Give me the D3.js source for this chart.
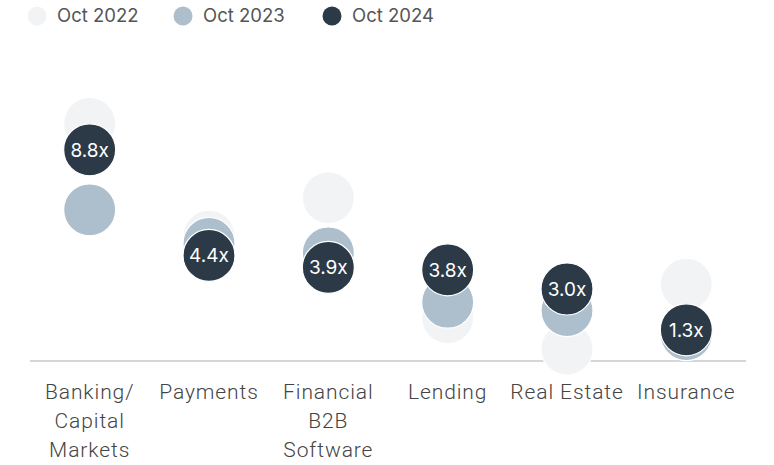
<!DOCTYPE html>
<html>
<head>
<meta charset="utf-8">
<script src="https://cdn.jsdelivr.net/npm/d3@7"></script>
<style>
  html, body { margin: 0; padding: 0; background: #ffffff; }
  svg { display: block; }
</style>
</head>
<body>
<svg id="chart" width="774" height="465"></svg>
<script>
// Revenue multiples by fintech segment
const categories = ["Banking/ Capital Markets", "Payments", "Financial B2B Software", "Lending", "Real Estate", "Insurance"];
const seriesNames = ["Oct 2022", "Oct 2023", "Oct 2024"];
const oct2022 = [9.9, 5.2, 6.8, 1.8, 0.5, 3.2];
const oct2023 = [6.3, 4.9, 4.5, 2.45, 2.1, 1.1];
const oct2024 = [8.8, 4.4, 3.9, 3.8, 3.0, 1.3];
const seriesValues = [oct2022, oct2023, oct2024];
const colors = ["#f2f3f5", "#adbfcc", "#2c3a47"];

const svg = d3.select("#chart");
const left = 30, right = 746, baseline = 361;

const x = d3.scaleBand().domain(categories).range([left, right]).padding(0);
const y = d3.scaleLinear().domain([0, 10]).range([baseline, baseline - 240]);
const r = 26;

// Legend
const legendX = [37, 183, 332];
const legend = svg.append("g").attr("class", "legend");
seriesNames.forEach((name, i) => {
  const g = legend.append("g").attr("transform", `translate(${legendX[i]},16)`);
  g.append("circle").attr("r", 9.5).attr("fill", colors[i]);
  g.append("text")
    .attr("x", 20).attr("y", 0).attr("dy", "0.35em")
    .attr("font-family", "Inter, 'Noto Sans', sans-serif")
    .attr("font-size", 18.5)
    .attr("fill", "#555555")
    .text(name);
});

// Baseline axis
const axis = d3.axisBottom(x).tickSize(0).tickPadding(0);
const axisG = svg.append("g")
  .attr("transform", `translate(0,${baseline})`)
  .call(axis);
axisG.select(".domain").attr("stroke", "#d6d6d6").attr("stroke-width", 2)
  .attr("d", `M${left},0H${right}`);
axisG.selectAll(".tick text")
  .attr("font-family", "Roboto, 'Liberation Sans', sans-serif")
  .attr("font-weight", 300)
  .attr("font-size", 21)
  .attr("letter-spacing", "0.9px")
  .attr("fill", "#444444")
  .attr("y", 38)
  .attr("dy", 0)
  .call(wrap, x.bandwidth() - 2);

function wrap(texts, width) {
  texts.each(function() {
    const text = d3.select(this);
    const words = text.text().split(/\s+/);
    const yPos = +text.attr("y");
    text.text(null);
    let line = [];
    let lineNo = 0;
    let tspan = text.append("tspan").attr("x", 0).attr("y", yPos);
    words.forEach(w => {
      line.push(w);
      tspan.text(line.join(" "));
      if (tspan.node().getComputedTextLength() > width && line.length > 1) {
        line.pop();
        tspan.text(line.join(" "));
        line = [w];
        lineNo++;
        tspan = text.append("tspan").attr("x", 0).attr("y", yPos + lineNo * 29).text(w);
      }
    });
  });
}

// Dots, drawn oldest first so the latest year sits on top
const plot = svg.append("g");
seriesValues.forEach((vals, si) => {
  plot.append("g").selectAll("circle")
    .data(vals)
    .join("circle")
    .attr("cx", (d, i) => x(categories[i]) + x.bandwidth() / 2)
    .attr("cy", d => y(d))
    .attr("r", r)
    .attr("fill", colors[si])
    .attr("stroke", "#ffffff")
    .attr("stroke-width", 1.2);
});

// Value labels on the latest year
plot.append("g").selectAll("text")
  .data(oct2024)
  .join("text")
  .attr("x", (d, i) => x(categories[i]) + x.bandwidth() / 2)
  .attr("y", d => y(d))
  .attr("dy", "0.36em")
  .attr("text-anchor", "middle")
  .attr("font-family", "Inter, 'Noto Sans', sans-serif")
  .attr("font-size", 19)
  .attr("fill", "#ffffff")
  .text(d => d.toFixed(1) + "x");
</script>
</body>
</html>
